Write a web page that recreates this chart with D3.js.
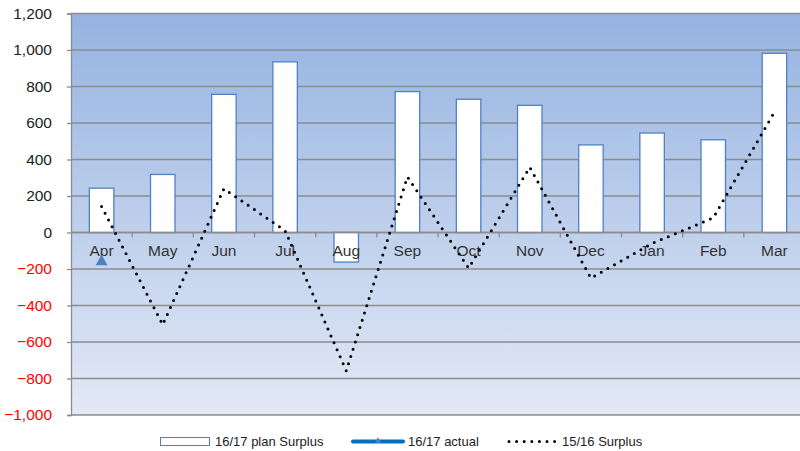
<!DOCTYPE html>
<html>
<head>
<meta charset="utf-8">
<script src="https://cdn.jsdelivr.net/npm/d3@7"></script>
<style>
  html, body { margin: 0; padding: 0; background: #ffffff; overflow: hidden; }
  svg { display: block; font-family: "Liberation Sans", Arial, sans-serif; }
</style>
</head>
<body>
<svg id="chart" width="800" height="451"></svg>
<script>
// Monthly surplus figures
const months = ["Apr", "May", "Jun", "Jul", "Aug", "Sep", "Oct", "Nov", "Dec", "Jan", "Feb", "Mar"];
const planSurplus = [243, 318, 757, 935, -162, 772, 730, 697, 480, 545, 508, 982];
const actual = [-160, null, null, null, null, null, null, null, null, null, null, null];
const prevSurplus = [143, -505, 240, 10, -758, 305, -195, 358, -250, -60, 80, 660];
const yTicks = [-1000, -800, -600, -400, -200, 0, 200, 400, 600, 800, 1000, 1200];

const svg = d3.select("#chart");
const plotLeft = 71, plotRight = 805, plotTop = 13.5, plotBottom = 415;

const xOuter = d3.scaleBand().domain(months).range([plotLeft, plotRight]);
const x = d3.scaleBand().domain(months).range([plotLeft, plotRight]).paddingInner(0.6).paddingOuter(0.3);
const y = d3.scaleLinear().domain([-1000, 1200]).range([plotBottom, plotTop]);
const grid = "#8c8c8c";

// Plot background gradient
const defs = svg.append("defs");
const grad = defs.append("linearGradient").attr("id", "bg").attr("x1", 0).attr("y1", 0).attr("x2", 0).attr("y2", 1);
grad.append("stop").attr("offset", "0%").attr("stop-color", "#95b3e1");
grad.append("stop").attr("offset", "100%").attr("stop-color", "#e3e9f6");

svg.append("rect")
  .attr("x", plotLeft).attr("y", plotTop)
  .attr("width", plotRight - plotLeft).attr("height", plotBottom - plotTop)
  .attr("fill", "url(#bg)");

// Gridlines
svg.append("g").selectAll("line").data(yTicks.filter(d => d !== -1000)).join("line")
  .attr("x1", plotLeft).attr("x2", plotRight)
  .attr("y1", d => y(d)).attr("y2", d => y(d))
  .attr("stroke", grid).attr("stroke-width", 1.3);

// Y axis
const yAxis = svg.append("g").attr("transform", `translate(${plotLeft},0)`)
  .call(d3.axisLeft(y).tickValues(yTicks).tickSize(4).tickPadding(15).tickFormat(d3.format(",")));
yAxis.select(".domain").attr("stroke", grid).attr("stroke-width", 1.3);
yAxis.selectAll(".tick line").attr("stroke", grid).attr("stroke-width", 1.3);
yAxis.selectAll(".tick text")
  .attr("font-size", 15.5).attr("font-family", "Liberation Sans, Arial, sans-serif")
  .attr("fill", d => d < 0 ? "#ff0000" : "#222222");

// Bottom border of plot
svg.append("line").attr("x1", plotLeft).attr("x2", plotRight).attr("y1", plotBottom).attr("y2", plotBottom)
  .attr("stroke", grid).attr("stroke-width", 1.3);

// Bars
svg.append("g").selectAll("rect").data(months.map((m, i) => ({ m, v: planSurplus[i] }))).join("rect")
  .attr("x", d => x(d.m))
  .attr("y", d => y(Math.max(0, d.v)))
  .attr("width", x.bandwidth())
  .attr("height", d => Math.abs(y(d.v) - y(0)))
  .attr("fill", "#ffffff").attr("stroke", "#4f81c6").attr("stroke-width", 1.3);

// Category axis at zero
const xAxis = svg.append("g").attr("transform", `translate(0,${y(0)})`);
xAxis.append("line").attr("x1", plotLeft).attr("x2", plotRight).attr("stroke", grid).attr("stroke-width", 1.3);
xAxis.selectAll("line.tk").data(months.slice(1)).join("line").attr("class", "tk")
  .attr("x1", d => xOuter(d)).attr("x2", d => xOuter(d)).attr("y1", 0).attr("y2", 5)
  .attr("stroke", grid).attr("stroke-width", 1.3);
xAxis.selectAll("text").data(months).join("text")
  .attr("x", d => xOuter(d) + xOuter.bandwidth() / 2)
  .attr("y", 23)
  .attr("text-anchor", "middle")
  .attr("font-size", 15.5)
  .attr("fill", "#333333")
  .text(d => d);

// 15/16 dotted line
const cx = d => xOuter(d) + xOuter.bandwidth() / 2;
const line = d3.line().defined(d => d.v != null).x(d => cx(d.m)).y(d => y(d.v));
svg.append("path")
  .datum(months.map((m, i) => ({ m, v: prevSurplus[i] })))
  .attr("d", line)
  .attr("fill", "none").attr("stroke", "#000000").attr("stroke-width", 3)
  .attr("stroke-linecap", "round").attr("stroke-dasharray", "0 7.6");

// 16/17 actual line and markers
const actualData = months.map((m, i) => ({ m, v: actual[i] }));
svg.append("path").datum(actualData).attr("d", line)
  .attr("fill", "none").attr("stroke", "#0070c0").attr("stroke-width", 4);
const tri = d3.symbol().type(d3.symbolTriangle).size(62);
svg.append("g").selectAll("path").data(actualData.filter(d => d.v != null)).join("path")
  .attr("transform", d => `translate(${cx(d.m)},${y(d.v)})`)
  .attr("d", tri).attr("fill", "#4f81bd");

// Legend
const lg = svg.append("g").attr("font-size", 13).attr("fill", "#222222");
lg.append("rect").attr("x", 160.5).attr("y", 437.5).attr("width", 49).attr("height", 8)
  .attr("fill", "#ffffff").attr("stroke", "#4f81c6").attr("stroke-width", 1);
lg.append("text").attr("x", 215).attr("y", 446).text("16/17 plan Surplus");

lg.append("line").attr("x1", 353).attr("x2", 403).attr("y1", 441.5).attr("y2", 441.5)
  .attr("stroke", "#0070c0").attr("stroke-width", 4).attr("stroke-linecap", "round");
lg.append("path").attr("transform", "translate(378,441)").attr("d", d3.symbol().type(d3.symbolTriangle).size(18)).attr("fill", "#4f81bd");
lg.append("text").attr("x", 408).attr("y", 446).text("16/17 actual");

lg.append("line").attr("x1", 509).attr("x2", 556).attr("y1", 441.5).attr("y2", 441.5)
  .attr("stroke", "#000000").attr("stroke-width", 3).attr("stroke-linecap", "round").attr("stroke-dasharray", "0 7.6");
lg.append("text").attr("x", 562).attr("y", 446).text("15/16 Surplus");
</script>
</body>
</html>
